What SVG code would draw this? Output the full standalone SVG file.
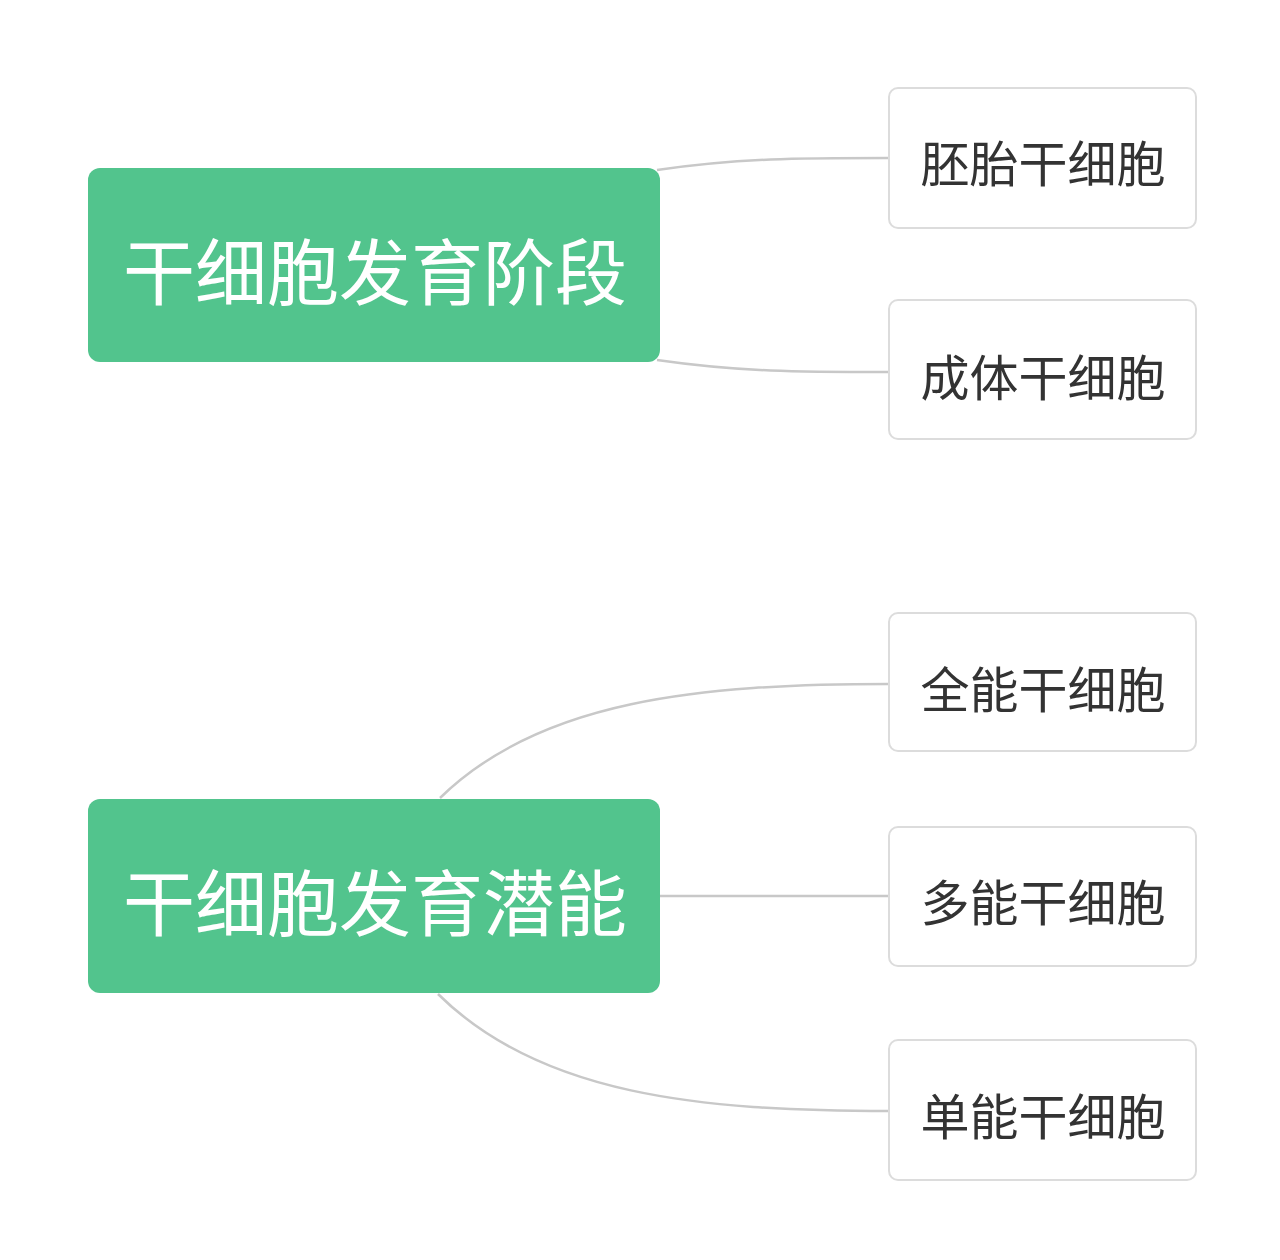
<svg xmlns="http://www.w3.org/2000/svg" width="1280" height="1260" viewBox="0 0 1280 1260">
<style>
.root rect{fill:#52C48D;}
.root text{fill:#ffffff;font-family:"Noto Sans CJK SC","Noto Sans",sans-serif;font-size:72px;text-anchor:middle;dominant-baseline:central;}
.child rect{fill:#ffffff;stroke:#dcdcdc;stroke-width:2;}
.child text{fill:#333333;font-family:"Noto Sans CJK SC","Noto Sans",sans-serif;font-size:49px;text-anchor:middle;dominant-baseline:central;}
.conn path{fill:none;stroke:#c8c8c8;stroke-width:2.5;}
</style>
<rect width="1280" height="1260" fill="#ffffff"/>
<g id="connectors" class="conn">
<path d="M657,170 C740,158 800,158 889,158"/>
<path d="M657,360 C740,372 800,372 889,372"/>
<path d="M440,798 C540,700 700,684 889,684"/>
<path d="M660,896 L889,896"/>
<path d="M438,994 C540,1095 700,1111 889,1111"/>
</g>
<g id="root1" class="root">
<rect x="88" y="168" width="572" height="194" rx="12"/>
<text x="375" y="267">干细胞发育阶段</text>
</g>
<g id="root2" class="root">
<rect x="88" y="799" width="572" height="194" rx="12"/>
<text x="375" y="898">干细胞发育潜能</text>
</g>
<g id="child1" class="child">
<rect x="889" y="88" width="307" height="140" rx="9"/>
<text x="1043" y="160">胚胎干细胞</text>
</g>
<g id="child2" class="child">
<rect x="889" y="300" width="307" height="139" rx="9"/>
<text x="1043" y="374">成体干细胞</text>
</g>
<g id="child3" class="child">
<rect x="889" y="613" width="307" height="138" rx="9"/>
<text x="1043" y="686">全能干细胞</text>
</g>
<g id="child4" class="child">
<rect x="889" y="827" width="307" height="139" rx="9"/>
<text x="1043" y="899">多能干细胞</text>
</g>
<g id="child5" class="child">
<rect x="889" y="1040" width="307" height="140" rx="9"/>
<text x="1043" y="1113">单能干细胞</text>
</g>
</svg>
